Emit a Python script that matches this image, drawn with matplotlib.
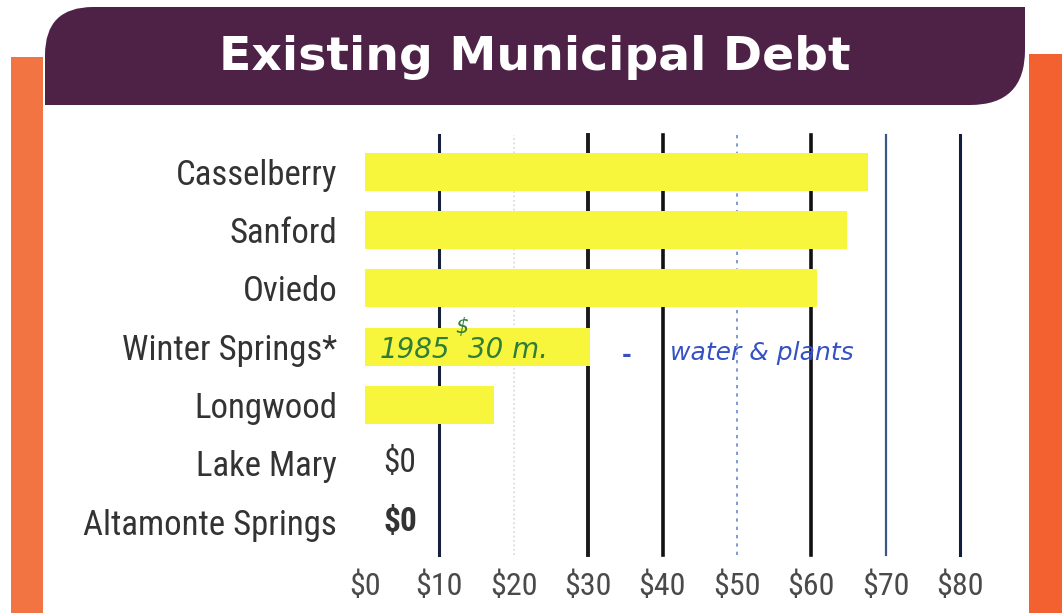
import matplotlib
matplotlib.use("Agg")
import matplotlib.pyplot as plt
from matplotlib.path import Path
from matplotlib.patches import PathPatch, Rectangle

# data
cities = ["Casselberry", "Sanford", "Oviedo", "Winter Springs*",
          "Longwood", "Lake Mary", "Altamonte Springs"]
debt = [67.6, 64.8, 60.8, 30.2, 17.3, 0, 0]   # millions of dollars
ticks = [0, 10, 20, 30, 40, 50, 60, 70, 80]
tick_labels = ["\\$%d" % t for t in ticks]
zero_labels = {"Lake Mary": "\\$0", "Altamonte Springs": "\\$0"}

NARROW = ["Roboto Condensed", "Liberation Sans Narrow", "Roboto"]

W, H = 1062, 613
fig = plt.figure(figsize=(W / 100, H / 100), dpi=100)
fig.patch.set_facecolor("white")

# background decoration (pixel coords)
bg = fig.add_axes([0, 0, 1, 1])
bg.set_xlim(0, W)
bg.set_ylim(H, 0)
bg.axis("off")

bg.add_patch(Rectangle((11, 57), 32, H - 57, color="#f37443", lw=0))
bg.add_patch(Rectangle((1029, 54), 33, H - 54, color="#f2612f", lw=0))

# banner with rounded top-left and bottom-right corners
L, R, T, B = 45, 1025, 7, 105
r1, r2 = 48, 55
verts = [(L, B), (L, T + r1), (L, T), (L + r1, T), (R, T), (R, B - r2),
         (R, B), (R - r2, B), (L, B)]
codes = [Path.MOVETO, Path.LINETO, Path.CURVE3, Path.CURVE3, Path.LINETO,
         Path.LINETO, Path.CURVE3, Path.CURVE3, Path.CLOSEPOLY]
bg.add_patch(PathPatch(Path(verts, codes), facecolor="#4e2246", edgecolor="none"))
bg.text(535, 58, "Existing Municipal Debt", color="white", fontsize=34,
        fontweight="bold", family="DejaVu Sans", ha="center", va="center")

# main chart
ax = fig.add_axes([365 / W, 58 / H, 595 / W, 420 / H])
ax.set_xlim(0, 80)
ax.set_ylim(6.57, -0.63)
for s in ax.spines.values():
    s.set_visible(False)

grid_style = [None,
              dict(color="#14203c", lw=2.2),
              dict(color="#d8d8d8", lw=1.2, ls=":"),
              dict(color="#1a1a1a", lw=2.8),
              dict(color="#111111", lw=2.6),
              dict(color="#6a8ac8", lw=1.2, ls=(0, (2, 3))),
              dict(color="#111111", lw=2.6),
              dict(color="#3b5680", lw=1.6),
              dict(color="#0f1d40", lw=2.2)]
for t, st in zip(ticks, grid_style):
    if st:
        ax.axvline(t, zorder=1, clip_on=False, **st)

ypos = list(range(len(cities)))
ax.barh(ypos, debt, height=0.65, color="#f7f53c", zorder=2)

ax.set_yticks(ypos)
ax.set_yticklabels(cities, family=NARROW, fontsize=25, color="#333333")
ax.set_xticks(ticks)
ax.set_xticklabels(tick_labels, family=NARROW, fontsize=23, color="#4a4a4a")
ax.tick_params(length=0)
ax.tick_params(axis="y", pad=20)
ax.tick_params(axis="x", pad=12)

for y, c in zip(ypos, cities):
    if c in zero_labels:
        w = "bold" if c == "Altamonte Springs" else "normal"
        ax.annotate(zero_labels[c], (0, y), xytext=(13, 0), textcoords="offset points",
                    ha="left", va="center", family=NARROW,
                    fontsize=24, fontweight=w, color="#333333")

# handwritten notes
ax.text(2.0, 3.05, "1985", color="#2f7d3a", fontsize=20, fontstyle="italic",
        va="center", ha="left", zorder=4)
ax.text(12.2, 2.66, "\\$", color="#2f7d3a", fontsize=15, fontstyle="italic",
        va="center", ha="left", zorder=4)
ax.text(13.8, 3.05, "30 m.", color="#2f7d3a", fontsize=20, fontstyle="italic",
        va="center", ha="left", zorder=4)
ax.text(34.5, 3.15, "-", color="#3a50c0", fontsize=17, fontweight="bold",
        va="center", ha="left", zorder=4)
ax.text(41.0, 3.1, "water & plants", color="#3551c4", fontsize=18,
        fontstyle="italic", va="center", ha="left", zorder=4)

fig.savefig("out.png", dpi=100)
